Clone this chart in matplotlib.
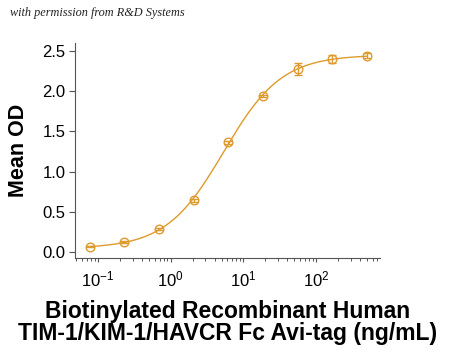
import numpy as np
import matplotlib
matplotlib.use("Agg")
import matplotlib.pyplot as plt
from matplotlib.ticker import LogLocator, NullFormatter

# concentrations (ng/mL), 3-fold dilution
conc = np.array([0.0762, 0.229, 0.686, 2.06, 6.17, 18.5, 55.6, 167, 500])
od = np.array([0.066, 0.124, 0.286, 0.643, 1.364, 1.94, 2.276, 2.40, 2.44])
od_err = np.array([0.005, 0.01, 0.01, 0.015, 0.02, 0.015, 0.077, 0.05, 0.03])

col = "#DE9A2C"

# 4PL fit: bottom/top solved linearly for each (ec50, hill) on a grid
best = None
for lc in np.linspace(-0.5, 2.0, 251):
    for h in np.linspace(0.5, 2.5, 201):
        s = 1.0 / (1.0 + (conc / 10**lc) ** h)
        A = np.column_stack([s, 1 - s])
        coef, res, _, _ = np.linalg.lstsq(A, od, rcond=None)
        r = np.sum((A @ coef - od) ** 2)
        if best is None or r < best[0]:
            best = (r, lc, h, coef)
_, lc, h, (bot, top) = best
xf = np.logspace(np.log10(conc[0]), np.log10(conc[-1]), 300)
sf = 1.0 / (1.0 + (xf / 10**lc) ** h)
yf = bot * sf + top * (1 - sf)

plt.rcParams['font.family'] = ['Liberation Sans', 'DejaVu Sans']

fig = plt.figure(figsize=(4.5, 3.54), dpi=100)
ax = fig.add_axes([0.1667, 0.271, 0.6777, 0.6075])

ax.plot(xf, yf, color=col, lw=1.0)
ax.errorbar(conc, od, yerr=od_err, fmt='o', mfc='none', mec=col, ecolor=col,
            ms=6.2, mew=1.0, elinewidth=1.0, capsize=3, capthick=1.0)

ax.set_xscale('log')
ax.set_xlim(0.048, 760)
ax.set_ylim(-0.075, 2.6)
ax.set_yticks([0.0, 0.5, 1.0, 1.5, 2.0, 2.5])
ax.set_yticklabels(['0.0', '0.5', '1.0', '1.5', '2.0', '2.5'])
ax.xaxis.set_major_locator(LogLocator(base=10, numticks=10))
ax.xaxis.set_minor_locator(LogLocator(base=10, subs=np.arange(2, 10), numticks=10))
ax.xaxis.set_minor_formatter(NullFormatter())

for sp in ['top', 'right']:
    ax.spines[sp].set_visible(False)
for sp in ['left', 'bottom']:
    ax.spines[sp].set_color('#555555')
    ax.spines[sp].set_linewidth(0.8)

ax.tick_params(axis='y', length=4, width=0.8, color='#555555', labelsize=12, pad=3)
ax.tick_params(axis='x', which='major', length=3, width=0.8, color='#555555', labelsize=12, pad=5)
ax.tick_params(axis='x', which='minor', length=2.5, width=0.7, color='#555555')

ax.set_ylabel('Mean OD', fontsize=15.5, fontweight='bold', labelpad=9.5)
ax.set_xlabel('Biotinylated Recombinant Human\nTIM-1/KIM-1/HAVCR Fc Avi-tag (ng/mL)',
              fontsize=16.5, fontweight='bold', labelpad=8, linespacing=0.95)

fig.text(0.022, 0.955, 'with permission from R&D Systems', fontsize=8.8,
         style='italic', family=['Liberation Serif', 'DejaVu Serif'], color='#222222')

fig.savefig('out.png', dpi=100)
